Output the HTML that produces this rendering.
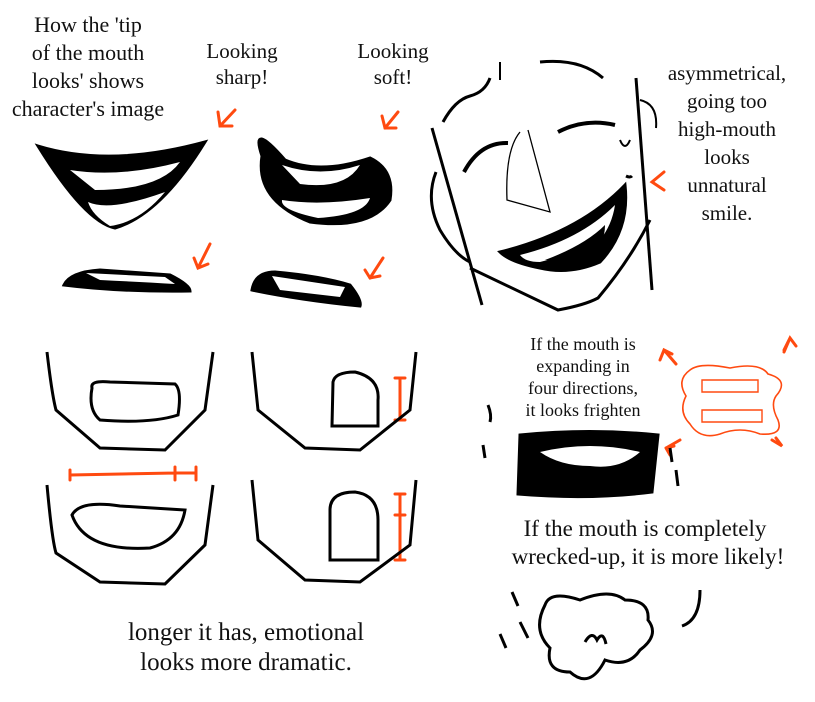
<!DOCTYPE html>
<html><head><meta charset="utf-8"><style>
html,body{margin:0;padding:0;background:#fff;}
svg{display:block;}
text{font-family:"Liberation Serif",serif;fill:#111;text-anchor:middle;}
</style></head><body>
<svg width="815" height="702" viewBox="0 0 815 702" xmlns="http://www.w3.org/2000/svg">
<g font-size="22">
<text x="88" y="32">How the 'tip</text>
<text x="88" y="60">of the mouth</text>
<text x="88" y="88">looks' shows</text>
<text x="88" y="116">character's image</text>
</g>
<g font-size="21">
<text x="242" y="58">Looking</text><text x="242" y="84">sharp!</text>
<text x="393" y="58">Looking</text><text x="393" y="84">soft!</text>
</g>
<g font-size="21">
<text x="727" y="80">asymmetrical,</text>
<text x="727" y="108">going too</text>
<text x="727" y="136">high-mouth</text>
<text x="727" y="164">looks</text>
<text x="727" y="192">unnatural</text>
<text x="727" y="220">smile.</text>
</g>
<g font-size="18">
<text x="583" y="350">If the mouth is</text>
<text x="583" y="372">expanding in</text>
<text x="583" y="394">four directions,</text>
<text x="583" y="416">it looks frighten</text>
</g>
<g font-size="23">
<text x="645" y="536">If the mouth is completely</text>
<text x="648" y="564">wrecked-up, it is more likely!</text>
</g>
<g font-size="25">
<text x="246" y="640">longer it has, emotional</text>
<text x="246" y="670">looks more dramatic.</text>
</g>

<!-- orange arrows -->
<g stroke="#ff4a10" stroke-width="3" fill="none" stroke-linecap="round">
<path d="M235 110 L220 126 M218 112 L220 126 L232 126"/>
<path d="M398 112 L385 128 M382 116 L385 128 L396 128"/>
<path d="M210 244 L198 268 M194 258 L198 268 L208 264"/>
<path d="M383 258 L370 278 M365 270 L370 278 L380 276"/>
<path d="M664 172 L652 182 L664 190"/>
<path d="M70 470 L70 480 M70 475 L175 473 M175 467 L175 480 M175 473 L196 473 M196 467 L196 480"/>
<path d="M400 378 L400 420 M395 378 L405 378 M395 420 L405 420"/>
<path d="M400 494 L400 560 M395 494 L405 494 M395 515 L405 515 M395 560 L405 560"/>
<path d="M660 360 L664 350 L672 354 M664 350 L676 364"/>
<path d="M784 350 L790 338 L796 346 M790 338 L784 352"/>
<path d="M670 455 L666 448 M666 448 L674 446 M666 448 L680 440"/>
<path d="M772 440 L782 446 L776 438"/>
<path d="M690 370 Q700 362 730 368 Q760 362 768 374 Q790 380 776 396 Q770 405 778 420 Q784 436 760 434 Q740 426 720 434 Q700 440 690 424 Q678 412 686 396 Q676 380 690 370 Z" stroke-width="1.6"/>
<path d="M702 380 L758 380 L758 392 L702 392 Z M702 410 L762 410 L762 422 L702 422 Z" stroke-width="1.4"/>
</g>

<g stroke="#000" stroke-width="3" fill="none">
<!-- sharp mouth -->
<path d="M38 146 Q110 168 205 142 Q160 215 115 228 Q85 222 38 146Z" fill="#000"/>
<path d="M70 170 Q120 178 180 162 Q160 190 95 190 Z" fill="#fff" stroke="none"/>
<path d="M88 202 Q110 212 165 192 Q140 222 110 226 Q92 215 88 202Z" fill="#fff" stroke="none"/>
<!-- soft mouth -->
<path d="M262 156 Q250 120 285 160 Q320 175 370 158 Q395 170 390 200 Q370 230 310 222 Q255 200 262 156Z" fill="#000"/>
<path d="M282 165 Q320 178 360 165 Q345 190 300 184 Z" fill="#fff" stroke="none"/>
<path d="M282 200 Q320 206 370 198 Q365 215 318 218 Q280 210 282 200Z" fill="#fff" stroke="none"/>
<!-- small mouths -->
<path d="M64 285 Q70 272 100 270 L170 275 Q190 285 190 291 Q120 292 64 285Z" fill="#000"/>
<path d="M86 273 L165 277 L175 284 Q140 282 100 280 Z" fill="#fff" stroke="none"/>
<path d="M252 290 Q255 272 275 272 Q320 276 350 285 Q362 300 360 306 Q300 300 252 290Z" fill="#000"/>
<path d="M272 276 L345 287 L340 297 L280 290Z" fill="#fff" stroke="none"/>

<!-- jaws -->
<path d="M47 352 Q52 395 56 410 L100 448 L165 450 L205 410 L213 352"/>
<path d="M92 388 Q90 380 110 382 L175 384 Q182 390 178 415 Q150 424 100 420 Q88 410 92 388Z"/>
<path d="M252 352 L258 410 L305 448 L360 450 L410 410 L416 352"/>
<path d="M333 382 Q335 372 355 372 Q380 378 378 400 L378 426 L332 426 Z"/>
<path d="M47 485 Q52 540 56 553 L100 582 L165 584 L205 545 L213 485"/>
<path d="M72 515 Q80 500 120 506 L185 510 Q180 540 150 548 Q85 552 72 515Z"/>
<path d="M252 480 L258 540 L305 580 L360 582 L410 545 L416 480"/>
<path d="M330 510 Q330 492 355 492 Q378 495 378 520 L378 560 L330 560 Z"/>

<!-- face -->
<path d="M443 122 Q455 100 470 96 Q485 92 490 78"/>
<path d="M500 62 L500 80" stroke-width="2"/>
<path d="M540 62 Q580 58 603 78"/>
<path d="M432 128 L482 305"/>
<path d="M636 78 L652 290"/>
<path d="M640 100 Q658 104 656 128" stroke-width="2"/>
<path d="M436 172 Q425 200 440 230 Q455 255 470 262"/>
<path d="M470 268 L558 310 Q585 305 598 298 Q630 260 650 220"/>
<path d="M464 172 Q480 142 508 143" stroke-width="4"/>
<path d="M558 132 Q585 118 615 125" stroke-width="4"/>
<path d="M520 132 Q505 150 507 200 L550 212 L528 130" stroke-width="1.3"/>
<path d="M620 140 Q625 152 630 140" stroke-width="2"/>
<path d="M626 176 Q630 178 632 176" stroke-width="3"/>
<path d="M500 252 Q580 232 625 185 Q630 230 600 262 Q570 275 540 268 Q510 262 500 252Z" fill="#000"/>
<path d="M520 255 Q580 240 615 205 Q612 225 600 240 Q570 255 540 262 Q525 262 520 255Z" fill="#fff" stroke="none"/>
<path d="M545 260 Q585 245 605 225 Q605 245 590 252 Q565 262 545 260Z" fill="#000" stroke="none"/>

<!-- frightened mouth -->
<path d="M520 435 Q590 428 658 435 L652 492 Q590 500 518 494 Z" fill="#000"/>
<path d="M540 452 Q590 440 640 452 Q620 470 590 466 Q560 466 540 452Z" fill="#fff" stroke="none"/>
<path d="M488 405 Q492 415 490 422 M483 445 L485 458"/>
<path d="M670 448 L672 462 M676 470 L678 486"/>

<!-- wrecked mouth -->
<path d="M545 605 Q550 590 580 600 Q610 588 625 600 Q650 600 648 620 Q660 635 640 650 Q628 668 605 660 Q590 690 570 672 Q545 672 550 648 Q532 630 545 605Z"/>
<path d="M585 642 Q592 630 597 640 Q603 630 606 644"/>
<path d="M512 592 L518 606 M520 622 L528 638 M500 634 L506 648 M700 590 Q700 620 682 626"/>
</g>
</svg>
</body></html>
